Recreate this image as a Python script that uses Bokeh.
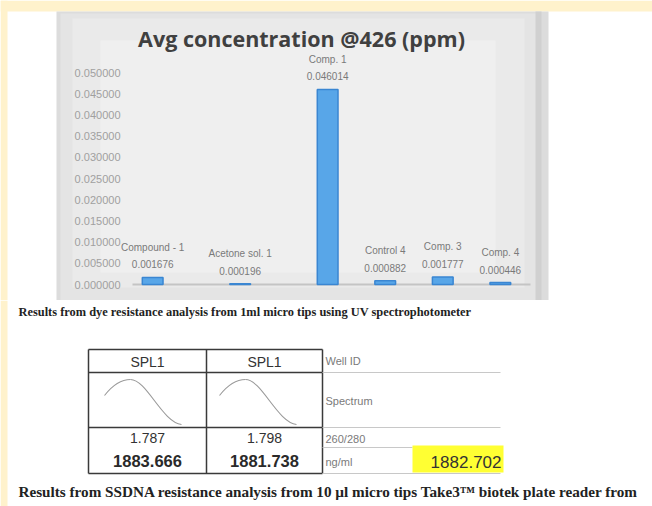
from bokeh.plotting import figure
from bokeh.models import Range1d, FactorRange, BoxAnnotation, Label
from bokeh.layouts import column
from bokeh.core.properties import value
from bokeh.embed import file_html
from bokeh.resources import INLINE

# ---------------- data ----------------
chart_title = "Avg concentration @426 (ppm)"
cluster = ["a", "b", "c", "c", "c", "c"]
categories = ["Compound - 1", "Acetone sol. 1", "Comp. 1", "Control 4", "Comp. 3", "Comp. 4"]
concentration = [0.001676, 0.000196, 0.046014, 0.000882, 0.001777, 0.000446]
value_labels = ["0.001676", "0.000196", "0.046014", "0.000882", "0.001777", "0.000446"]
y_ticks = [0.000, 0.005, 0.010, 0.015, 0.020, 0.025, 0.030, 0.035, 0.040, 0.045, 0.050]
y_tick_labels = ["0.000000", "0.005000", "0.010000", "0.015000", "0.020000", "0.025000",
                 "0.030000", "0.035000", "0.040000", "0.045000", "0.050000"]

caption_1 = "Results from dye resistance analysis from 1ml micro tips using UV spectrophotometer"
caption_2 = "Results from SSDNA resistance analysis from 10 \u00b5l micro tips Take3\u2122 biotek plate reader from"

well_ids = ["SPL1", "SPL1"]
ratio_260_280 = ["1.787", "1.798"]
conc_ng_ml = ["1883.666", "1881.738"]
row_labels = ["Well ID", "Spectrum", "260/280", "ng/ml"]
mean_conc = ["1882.702"]

# ---------------- layout constants ----------------
W = 652
X0, Y0 = 0, 0
SPLIT = 300           # picture row where the chart panel ends
H_TOP = SPLIT - Y0
H_BOT = 506 - SPLIT
CREAM = "#fff2cc"

zero_px, top_px, top_val = 284, 72, 0.05
per_px = top_val / (zero_px - top_px)


def vy(py):
    """picture row -> value on the chart's y scale"""
    return (zero_px - py) * per_px


def sx(px):
    """picture column -> screen x inside the figure"""
    return px - X0


# ---------------- chart figure ----------------
factors = list(zip(cluster, categories))
xr = FactorRange(factors=factors, factor_padding=0.0, group_padding=0.52,
                 range_padding=0.609, range_padding_units="percent")
pa = figure(width=W, height=H_TOP, x_range=xr, y_range=Range1d(vy(SPLIT), vy(Y0)),
            output_backend="svg", toolbar_location=None, min_border=0,
            x_axis_location=None, y_axis_location=None, outline_line_color=None,
            background_fill_color="white", border_fill_color="white")
pa.grid.visible = False


def box(fig, l, r, t, b, color):
    fig.add_layout(BoxAnnotation(left=sx(l), right=sx(r), top=vy(t), bottom=vy(b),
                                 left_units="screen", right_units="screen",
                                 fill_color=color, fill_alpha=1.0, line_color=None,
                                 level="underlay"))


box(pa, 0, 652, 0, 11, CREAM)
box(pa, 0, 7, 0, 300, CREAM)
box(pa, 56, 548, 11, 300, "#dcdcdc")
box(pa, 60, 538, 13, 300, "#e4e4e4")
box(pa, 72, 524, 18, 287, "#eaeaea")
box(pa, 100, 495, 40, 272, "#efefef")
box(pa, 535, 541, 11, 300, "#d0d0d0")
box(pa, 132, 530, 283, 285, "#c4c4c4")

pa.add_layout(Label(x=sx(301), y=vy(38), x_units="screen", text=chart_title,
                    text_font="Open Sans", text_font_style="bold", text_font_size="21.5px",
                    text_color="#404040", text_align="center", text_baseline="middle"))

for t, lab in zip(y_ticks, y_tick_labels):
    pa.add_layout(Label(x=sx(120), y=t, x_units="screen", text=lab,
                        text_font="Liberation Sans", text_font_size="11px",
                        text_color="#a0a0a0", text_align="right", text_baseline="middle"))

pa.vbar(x=factors, top=concentration, bottom=0, width=0.36,
        fill_color="#58a6e8", line_color="#3a86d2", line_width=1.5)

pa.text(x=factors, y=concentration, text=value_labels, y_offset=-13,
        text_font=value("Liberation Sans"), text_font_size="10px",
        text_color="#7a7a7a", text_align="center", text_baseline="middle")
pa.text(x=factors, y=concentration, text=categories, y_offset=-30,
        text_font=value("Liberation Sans"), text_font_size="10px",
        text_color="#7a7a7a", text_align="center", text_baseline="middle")

# ---------------- document figure (coordinates = picture pixels) ----------------
p = figure(width=W, height=H_BOT, x_range=Range1d(X0, X0 + W), y_range=Range1d(506, SPLIT),
           output_backend="svg", toolbar_location=None, min_border=0,
           x_axis_location=None, y_axis_location=None, outline_line_color=None,
           background_fill_color="white", border_fill_color="white")
p.grid.visible = False

p.quad(left=0, right=7, top=SPLIT, bottom=506, fill_color=CREAM, line_color=None)

p.text(x=[18], y=[311], text=[caption_1], text_font=value("Liberation Serif"),
       text_font_style="bold", text_font_size="12.4px", text_color="#222222",
       text_align="left", text_baseline="middle")

tl, tm, tr = 88, 206, 322
tt, r1, r2, tb = 349, 372, 427, 473
line_c = "#3a3a3a"
p.segment(x0=[tl, tm, tr], x1=[tl, tm, tr], y0=[tt] * 3, y1=[tb] * 3,
          line_color=line_c, line_width=1.5)
p.segment(x0=[tl] * 4, x1=[tr] * 4, y0=[tt, r1, r2, tb], y1=[tt, r1, r2, tb],
          line_color=line_c, line_width=1.5)
p.segment(x0=[tr, tr, tr, tr], x1=[500, 500, 412, 500], y0=[r1, r2, 447, tb],
          y1=[r1, r2, 447, tb], line_color="#c8c8c8", line_width=1)

col_c = [147, 264]
p.text(x=col_c, y=[361] * 2, text=well_ids, text_font=value("Liberation Sans"),
       text_font_size="14px", text_color="#333333", text_align="center",
       text_baseline="middle")
p.text(x=col_c, y=[437] * 2, text=ratio_260_280, text_font=value("Liberation Sans"),
       text_font_size="14px", text_color="#333333", text_align="center",
       text_baseline="middle")
p.text(x=col_c, y=[460] * 2, text=conc_ng_ml, text_font=value("Liberation Sans"),
       text_font_style="bold", text_font_size="16.5px", text_color="#2a2a2a",
       text_align="center", text_baseline="middle")

for dx in (0, 115):
    p.bezier(x0=[104 + dx], y0=[395], x1=[130 + dx], y1=[379],
             cx0=[111 + dx], cy0=[386], cx1=[120 + dx], cy1=[379],
             line_color="#9a9a9a", line_width=1.1)
    p.bezier(x0=[130 + dx], y0=[379], x1=[181 + dx], y1=[424],
             cx0=[146 + dx], cy0=[379], cx1=[162 + dx], cy1=[422],
             line_color="#9a9a9a", line_width=1.1)

p.text(x=[325] * 4, y=[360, 400, 438, 461], text=row_labels,
       text_font=value("Liberation Sans"), text_font_size="11px", text_color="#7a7a7a",
       text_align="left", text_baseline="middle")

p.quad(left=412, right=503, top=445, bottom=472, fill_color="#ffff33", line_color=None)
p.text(x=[501], y=[461], text=mean_conc, text_font=value("Liberation Sans"),
       text_font_size="17px", text_color="#333333", text_align="right",
       text_baseline="middle")

p.text(x=[18], y=[491], text=[caption_2], text_font=value("Liberation Serif"),
       text_font_style="bold", text_font_size="15.2px", text_color="#222222",
       text_align="left", text_baseline="middle")

layout = column(pa, p, spacing=0)
open("out.html", "w").write(file_html(layout, INLINE))
